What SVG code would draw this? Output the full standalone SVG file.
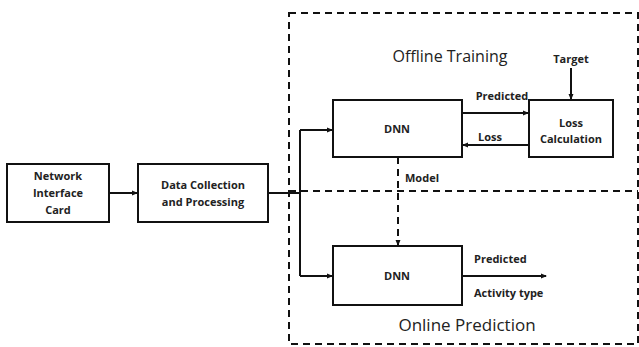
<svg xmlns="http://www.w3.org/2000/svg" width="639" height="347" viewBox="0 0 639 347">
<defs>
<marker id="ah" markerWidth="6" markerHeight="6" refX="5" refY="3" orient="auto" markerUnits="userSpaceOnUse">
<path d="M0,0.5 L6,3 L0,5.5 Z" fill="#111"/>
</marker>
<style>
.box{fill:#fff;stroke:#111;stroke-width:2}
.ln{fill:none;stroke:#111;stroke-width:2}
.dash{fill:none;stroke:#111;stroke-width:2;stroke-dasharray:7,5}
.t{font-family:"Open Sans","Liberation Sans",sans-serif;font-weight:bold;font-size:11px;fill:#222;text-anchor:middle}
.tl{font-family:"Open Sans","Liberation Sans",sans-serif;font-weight:bold;font-size:11px;fill:#222}
.h{font-family:"Open Sans","Liberation Sans",sans-serif;font-size:16px;fill:#222;text-anchor:middle}
</style>
</defs>
<rect width="639" height="347" fill="#fff"/>
<g id="regions">
<rect class="dash" x="289" y="13" width="349" height="331"/>
<line class="dash" x1="289" y1="191" x2="638" y2="191"/>
<text class="h" x="450" y="62">Offline Training</text>
<text class="h" x="467" y="331" style="font-size:17px">Online Prediction</text>
</g>
<g id="connectors">
<line class="ln" x1="109" y1="193" x2="137" y2="193" marker-end="url(#ah)"/>
<polyline class="ln" points="268,193 300,193"/>
<polyline class="ln" points="300,130 300,276"/>
<line class="ln" x1="300" y1="130" x2="332" y2="130" marker-end="url(#ah)"/>
<line class="ln" x1="300" y1="276" x2="332" y2="276" marker-end="url(#ah)"/>
<line class="ln" x1="462" y1="113" x2="528" y2="113" marker-end="url(#ah)"/>
<line class="ln" x1="529" y1="145" x2="463" y2="145" marker-end="url(#ah)"/>
<line class="ln" x1="571" y1="68" x2="571" y2="99" marker-end="url(#ah)"/>
<line class="dash" x1="398" y1="157" x2="398" y2="245" marker-end="url(#ah)"/>
<line class="ln" x1="462" y1="276" x2="546" y2="276" marker-end="url(#ah)"/>
<text class="t" x="502" y="100">Predicted</text>
<text class="t" x="490" y="141">Loss</text>
<text class="t" x="571" y="63">Target</text>
<text class="tl" x="405" y="182">Model</text>
<text class="tl" x="474" y="263">Predicted</text>
<text class="tl" x="474" y="297">Activity type</text>
</g>
<g id="nic">
<rect class="box" x="7" y="164" width="102" height="58"/>
<text class="t" x="58" y="180">Network</text>
<text class="t" x="58" y="197">Interface</text>
<text class="t" x="58" y="214">Card</text>
</g>
<g id="dcp">
<rect class="box" x="138" y="164" width="130" height="58"/>
<text class="t" x="203" y="189">Data Collection</text>
<text class="t" x="203" y="206">and Processing</text>
</g>
<g id="dnn1">
<rect class="box" x="333" y="100" width="129" height="57"/>
<text class="t" x="397" y="133">DNN</text>
</g>
<g id="loss">
<rect class="box" x="529" y="100" width="84" height="57"/>
<text class="t" x="571" y="127">Loss</text>
<text class="t" x="571" y="143">Calculation</text>
</g>
<g id="dnn2">
<rect class="box" x="333" y="246" width="129" height="59"/>
<text class="t" x="397" y="280">DNN</text>
</g>
</svg>
